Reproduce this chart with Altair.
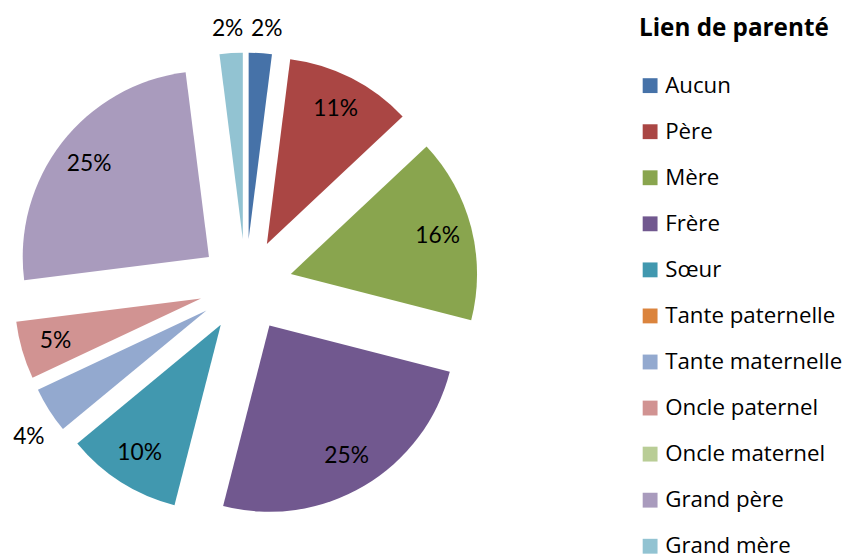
import altair as alt
import pandas as pd

categories = ["Aucun", "Père", "Mère", "Frère", "Sœur", "Tante paternelle",
              "Tante maternelle", "Oncle paternel", "Oncle maternel",
              "Grand père", "Grand mère"]
values = [2, 11, 16, 25, 10, 0, 4, 5, 0, 25, 2]
colors = ["#4672A8", "#AA4644", "#89A54E", "#71588F", "#4198AF", "#DB843D",
          "#93A9CF", "#D19392", "#B9CD96", "#A99BBD", "#92C3D2"]

df = pd.DataFrame({"cat": categories, "value": values,
                   "order": list(range(len(categories)))})

CX, CY = 240, 277.5   # pie centre inside the view
EXPLODE = 47          # explosion distance
R = 188               # pie radius
LABEL_FONT = "Lato"
LEGEND_FONT = "Open Sans"

base = (
    alt.Chart(df)
    .transform_joinaggregate(total="sum(value)")
    .transform_window(cum="sum(value)", sort=[alt.SortField("order")], frame=[None, 0])
    .transform_calculate(
        start="2*PI*(datum.cum-datum.value)/datum.total",
        end="2*PI*datum.cum/datum.total",
    )
    .transform_calculate(mid="(datum.start+datum.end)/2")
    .transform_calculate(
        px=f"{CX}+{EXPLODE}*sin(datum.mid)",
        py=f"{CY}-{EXPLODE}*cos(datum.mid)",
    )
)

arcs = base.transform_filter("datum.value > 0").mark_arc(outerRadius=R).encode(
    x=alt.X("px:Q", scale=None, axis=None),
    y=alt.Y("py:Q", scale=None, axis=None),
    theta=alt.Theta("start:Q", scale=None),
    theta2="end:Q",
    color=alt.Color(
        "cat:N",
        scale=alt.Scale(domain=categories, range=colors),
        sort=categories,
        legend=alt.Legend(
            title="Lien de parenté", orient="none", legendX=637, legendY=7,
            titleFont=LEGEND_FONT, titleFontSize=24.5, titleFontWeight="bold", titleColor="black",
            labelFont=LEGEND_FONT, labelFontSize=22.5, labelColor="black",
            symbolType="square", symbolSize=225, symbolStrokeWidth=0,
            rowPadding=23.5, titlePadding=33, labelOffset=4, padding=0,
            labelLimit=400, titleLimit=400,
        ),
    ),
)

labels = (
    base.transform_filter("datum.value > 0")
    .transform_calculate(
        outside="datum.value < 5",
    )
    .transform_calculate(
        la="datum.outside && abs(sin(datum.mid)) >= 0.3 ? datum.mid - 0.055 : datum.mid",
        lr=f"datum.outside ? {R + 14} + 16*abs(sin(datum.mid)) + 9*abs(cos(datum.mid)) : 153",
        nudge="datum.outside && abs(sin(datum.mid)) < 0.3 ? (sin(datum.mid) > 0 ? 5 : -2) : 0",
        label="datum.value + '%'",
    )
    .transform_calculate(
        tx="datum.px + datum.lr*sin(datum.la) + datum.nudge",
        ty="datum.py - datum.lr*cos(datum.la)",
    )
    .mark_text(font=LABEL_FONT, fontSize=23, color="black", baseline="middle", align="center")
    .encode(
        x=alt.X("tx:Q", scale=None, axis=None),
        y=alt.Y("ty:Q", scale=None, axis=None),
        text="label:N",
    )
)

chart = (
    alt.layer(arcs, labels)
    .properties(width=845, height=550, padding=0, autosize="none")
    .configure_view(stroke=None)
)

chart.save("out.html", embed_options={"renderer": "svg", "actions": False})
